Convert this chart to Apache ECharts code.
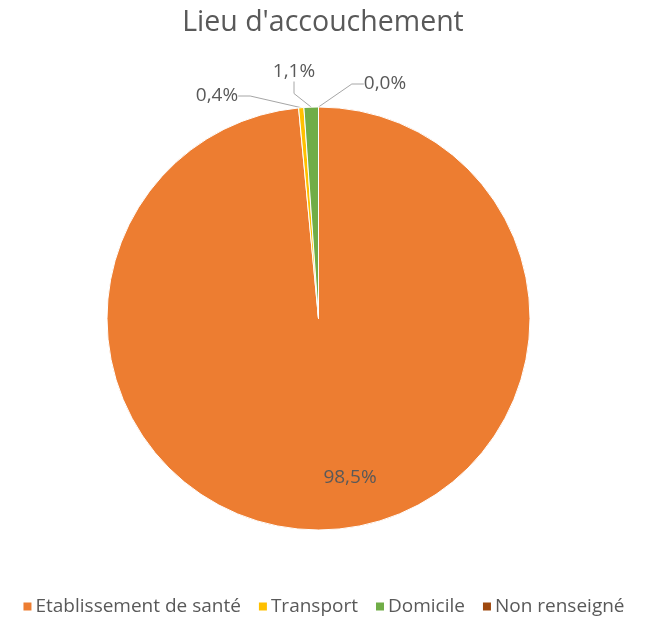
<!DOCTYPE html>
<html>
<head>
<meta charset="utf-8">
<script src="https://cdn.jsdelivr.net/npm/echarts@6/dist/echarts.min.js"></script>
<style>
html,body{margin:0;padding:0;background:#fff;}
#chart{width:646px;height:625px;}
</style>
</head>
<body>
<div id="chart"></div>
<script>
// Lieu d'accouchement : répartition en pourcentage
const categories = ['Etablissement de santé', 'Transport', 'Domicile', 'Non renseigné'];
const values = [98.5, 0.4, 1.1, 0.0];
const colors = ['#ED7D31', '#FFC000', '#70AD47', '#9E480E'];

const FONT = '"Open Sans", "Noto Sans", sans-serif';
const TEXT = '#595959';

// label placement for each slice (px in chart coordinates)
const labelSpots = [
  { x: 350, y: 478 },
  { x: 217, y: 96 },
  { x: 294, y: 72 },
  { x: 385, y: 84 }
];

const chart = echarts.init(document.getElementById('chart'), null, { renderer: 'canvas' });

chart.setOption({
  backgroundColor: '#fff',
  animation: false,
  title: {
    text: "Lieu d'accouchement",
    left: 'center',
    top: 3,
    textStyle: { fontFamily: FONT, fontSize: 28.5, fontWeight: 'normal', color: TEXT }
  },
  legend: {
    bottom: 4,
    left: 'center',
    icon: 'rect',
    itemWidth: 10,
    itemHeight: 10,
    itemGap: 16,
    textStyle: { fontFamily: FONT, fontSize: 19, color: TEXT, padding: [0, 0, 0, -2] },
    data: categories
  },
  series: [{
    type: 'pie',
    center: [318.5, 318.5],
    radius: 211.5,
    startAngle: 90,
    clockwise: true,
    avoidLabelOverlap: false,
    minShowLabelAngle: 0,
    stillShowZeroSum: true,
    itemStyle: { borderColor: '#fff', borderWidth: 1 },
    label: {
      show: true,
      fontFamily: FONT,
      fontSize: 19,
      color: TEXT,
      formatter: p => p.value.toFixed(1).replace('.', ',') + '%'
    },
    labelLine: {
      show: true,
      length: 12,
      length2: 12,
      lineStyle: { color: '#A6A6A6', width: 1 }
    },
    labelLayout: params => {
      const s = labelSpots[params.dataIndex];
      return { x: s.x, y: s.y, align: 'center', verticalAlign: 'middle' };
    },
    data: categories.map((name, i) => ({
      name,
      value: values[i],
      itemStyle: { color: colors[i] },
      label: i === 0 ? { position: 'inside' } : { position: 'outside' },
      labelLine: { show: i !== 0 }
    }))
  }]
});
</script>
</body>
</html>
